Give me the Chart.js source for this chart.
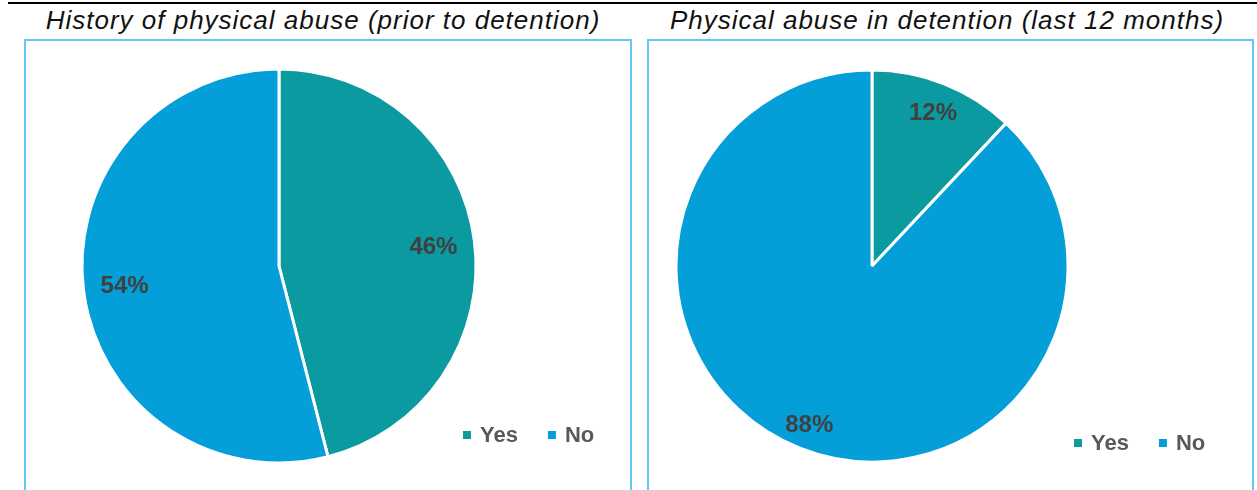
<!DOCTYPE html>
<html>
<head>
<meta charset="utf-8">
<script src="https://cdn.jsdelivr.net/npm/chart.js"></script>
<style>
  html, body { margin:0; padding:0; background:#fff; }
  body { width:1257px; height:490px; position:relative; overflow:hidden; font-family:"Liberation Sans", Arial, sans-serif; }
  .topline { position:absolute; left:8px; top:2px; width:1249px; height:2px; background:#000; }
  .box { position:absolute; top:39px; height:460px; border:2px solid #5CCBF5; border-bottom:none; box-sizing:border-box; }
  .title { position:absolute; top:4px; font-family:"Liberation Sans", Arial, sans-serif; font-style:italic; font-size:26px; letter-spacing:1px; color:#111; white-space:nowrap; transform:translateX(-50%); line-height:32px; }
  canvas { position:absolute; }
</style>
</head>
<body>
<div class="topline"></div>
<div class="box" style="left:24px; width:608px;"></div>
<div class="box" style="left:647px; width:607px;"></div>
<div class="title" id="t1" style="left:323px;"></div>
<div class="title" id="t2" style="left:947px;"></div>
<canvas id="c1" width="605" height="450" style="left:25px; top:40px;"></canvas>
<canvas id="c2" width="604" height="450" style="left:648px; top:40px;"></canvas>
<script>
const categories = ['Yes', 'No'];
const historyValues = [46, 54];
const detentionValues = [12, 88];
const historyTitle = 'History of physical abuse (prior to detention)';
const detentionTitle = 'Physical abuse in detention (last 12 months)';
const sliceColors = ['#0B9AA0', '#049FD9'];

document.getElementById('t1').textContent = historyTitle;
document.getElementById('t2').textContent = detentionTitle;

const labelPlugin = {
  id: 'sliceLabels',
  afterDatasetsDraw(chart, args, opts) {
    const ctx = chart.ctx;
    const meta = chart.getDatasetMeta(0);
    const data = chart.data.datasets[0].data;
    ctx.save();
    ctx.font = 'bold 24px "Liberation Sans", Arial, sans-serif';
    ctx.fillStyle = '#404040';
    ctx.textAlign = 'center';
    ctx.textBaseline = 'middle';
    meta.data.forEach((arc, i) => {
      const p = arc.getProps(['x','y','startAngle','endAngle','outerRadius'], true);
      const mid = (p.startAngle + p.endAngle) / 2;
      const f = opts.fracs[i];
      ctx.fillText(data[i] + '%', p.x + Math.cos(mid) * p.outerRadius * f, p.y + Math.sin(mid) * p.outerRadius * f + 1);
    });
    ctx.restore();
  },
  afterDraw(chart, args, opts) {
    const ctx = chart.ctx;
    const labels = chart.data.labels;
    const colors = chart.data.datasets[0].backgroundColor;
    ctx.save();
    ctx.font = 'bold 22px "Liberation Sans", Arial, sans-serif';
    ctx.textBaseline = 'middle';
    ctx.textAlign = 'left';
    let x = opts.legendX;
    const y = opts.legendY;
    labels.forEach((lab, i) => {
      ctx.fillStyle = colors[i];
      ctx.fillRect(x, y - 4, 8, 8);
      ctx.fillStyle = '#595959';
      ctx.fillText(lab, x + 17, y + 1);
      x += 17 + ctx.measureText(lab).width + 30;
    });
    ctx.restore();
  }
};

function makePie(id, values, radius, padding, fracs, legendX, legendY) {
  return new Chart(document.getElementById(id), {
    type: 'pie',
    data: {
      labels: categories,
      datasets: [{
        data: values,
        backgroundColor: sliceColors,
        borderColor: '#ffffff',
        borderWidth: 3
      }]
    },
    options: {
      responsive: false,
      animation: false,
      radius: radius,
      layout: { padding: padding },
      plugins: {
        legend: { display: false },
        tooltip: { enabled: false },
        sliceLabels: { fracs: fracs, legendX: legendX, legendY: legendY }
      }
    },
    plugins: [labelPlugin]
  });
}

makePie('c1', historyValues, 197, {left:58, right:155, top:30, bottom:28}, [0.79, 0.79], 438, 395);
makePie('c2', detentionValues, 196, {left:29, right:185, top:31, bottom:29}, [0.845, 0.87], 426, 403);
</script>
</body>
</html>
